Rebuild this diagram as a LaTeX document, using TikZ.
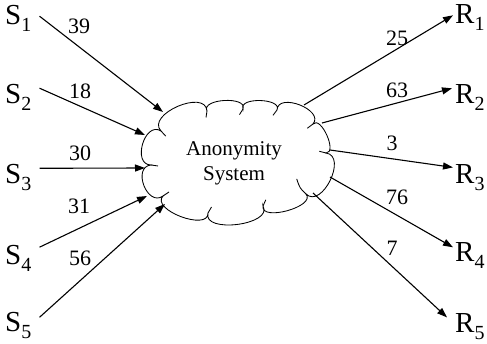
\documentclass[tikz,border=0pt]{standalone}
\usepackage{fontspec}
\setmainfont{Liberation Serif}
\usetikzlibrary{arrows.meta}

% party label: letter with a lowered index
\newcommand\party[2]{\fontsize{29}{29}\selectfont #1\raisebox{-7pt}{\fontsize{20}{20}\selectfont #2}}

\tikzset{
  partylbl/.style={inner sep=0pt, anchor=base west},
  flowlbl/.style={inner sep=0pt, font=\fontsize{22}{22}\selectfont},
  flow/.style={line width=1.1pt, -{Triangle[length=10pt,width=7pt]}},
  puff/.style={line width=0.85pt},
}

\begin{document}
\begin{tikzpicture}[x=1pt,y=-1pt]
\useasboundingbox (0,0) rectangle (487,344);

% senders
\node[partylbl] (s1) at (5,25)  {\party{S}{1}};
\node[partylbl] (s2) at (5,104) {\party{S}{2}};
\node[partylbl] (s3) at (5,184) {\party{S}{3}};
\node[partylbl] (s4) at (5,265) {\party{S}{4}};
\node[partylbl] (s5) at (5,331) {\party{S}{5}};

% receivers
\node[partylbl] (r1) at (455,24)  {\party{R}{1}};
\node[partylbl] (r2) at (455,104) {\party{R}{2}};
\node[partylbl] (r3) at (455,184) {\party{R}{3}};
\node[partylbl] (r4) at (455,262) {\party{R}{4}};
\node[partylbl] (r5) at (455,333) {\party{R}{5}};

% cloud outline: puffs between the dips, each with a short inner curl
\draw[puff]
  (161,131) .. controls (145.6,114.5) and (205.4,88.5)  .. (207,111)
            .. controls (200.9,98.6)  and (247.7,96.0)  .. (243,109)
            .. controls (238.3,96.9)  and (282.5,98.2)  .. (277,110)
            .. controls (277.9,91.8)  and (324.7,110.0) .. (313,124)
            .. controls (320.8,115.2) and (337.8,153.0) .. (326,153)
            .. controls (347.9,156.1) and (321.9,209.3) .. (306,194)
            .. controls (316.5,206.4) and (260.5,222.0) .. (263,206)
            .. controls (273.7,224.9) and (202.3,233.9) .. (208,213)
            .. controls (208.6,231.7) and (150.2,209.7) .. (163,196)
            .. controls (147.3,207.4) and (131.7,167.0) .. (151,165)
            .. controls (131.6,164.8) and (144.6,120.6) .. (161,131);
\draw[puff] (207,111) .. controls (207.3,114.5) .. (206.0,117.5);
\draw[puff] (243,109) .. controls (241.8,112.2) .. (239.5,114.6);
\draw[puff] (277,110) .. controls (275.6,113.1) .. (273.0,115.3);
\draw[puff] (313,124) .. controls (310.6,126.9) .. (307.3,128.3);
\draw[puff] (326,153) .. controls (322.5,153.0) .. (319.3,151.3);
\draw[puff] (306,194) .. controls (299.8,188.1) .. (296.7,178.9);
\draw[puff] (263,206) .. controls (263.6,202.6) .. (265.8,199.8);
\draw[puff] (208,213) .. controls (209.0,209.7) .. (211.5,207.0);
\draw[puff] (163,196) .. controls (165.5,193.3) .. (169.0,192.0);
\draw[puff] (151,165) .. controls (154.5,164.6) .. (158.0,166.0);
\draw[puff] (161,131) .. controls (164.0,133.0) .. (165.8,136.2);

\node[align=center, inner sep=0pt, font=\fontsize{21}{25}\selectfont] (sys) at (234,163)
  {Anonymity\\System};

% where the flows meet the cloud
\coordinate (in1) at (163,112);
\coordinate (in2) at (145,135);
\coordinate (in3) at (145,168);
\coordinate (in4) at (147,196);
\coordinate (in5) at (165,204);
\coordinate (out1) at (304,105);
\coordinate (out2) at (322,123);
\coordinate (out3) at (330,150);
\coordinate (out4) at (330,177);
\coordinate (out5) at (313,193);

% incoming flows
\draw[flow] ([shift={(8,-2.7)}]s1.east)  -- (in1);
\draw[flow] ([shift={(8,-9.7)}]s2.east)  -- (in2);
\draw[flow] ([shift={(8,-9.7)}]s3.east)  -- (in3);
\draw[flow] ([shift={(8,-11.7)}]s4.east) -- (in4);
\draw[flow] ([shift={(8,-7.7)}]s5.east)  -- (in5);

% outgoing flows
\draw[flow] (out1) -- ([shift={(-2,-2.7)}]r1.west);
\draw[flow] (out2) -- ([shift={(-3,-9.7)}]r2.west);
\draw[flow] (out3) -- ([shift={(-2,-10.7)}]r3.west);
\draw[flow] (out4) -- ([shift={(-2,-8.7)}]r4.west);
\draw[flow] (out5) -- ([shift={(-8,-9.7)}]r5.west);

% message counts
\node[flowlbl] (w1) at (79,26)  {39};
\node[flowlbl] (w2) at (80,91)  {18};
\node[flowlbl] (w3) at (80,153) {30};
\node[flowlbl] (w4) at (79,206) {31};
\node[flowlbl] (w5) at (80,258) {56};
\node[flowlbl] (v1) at (397,38)  {25};
\node[flowlbl] (v2) at (397,90)  {63};
\node[flowlbl] (v3) at (392,143) {3};
\node[flowlbl] (v4) at (397,197) {76};
\node[flowlbl] (v5) at (392,248) {7};
\end{tikzpicture}
\end{document}
